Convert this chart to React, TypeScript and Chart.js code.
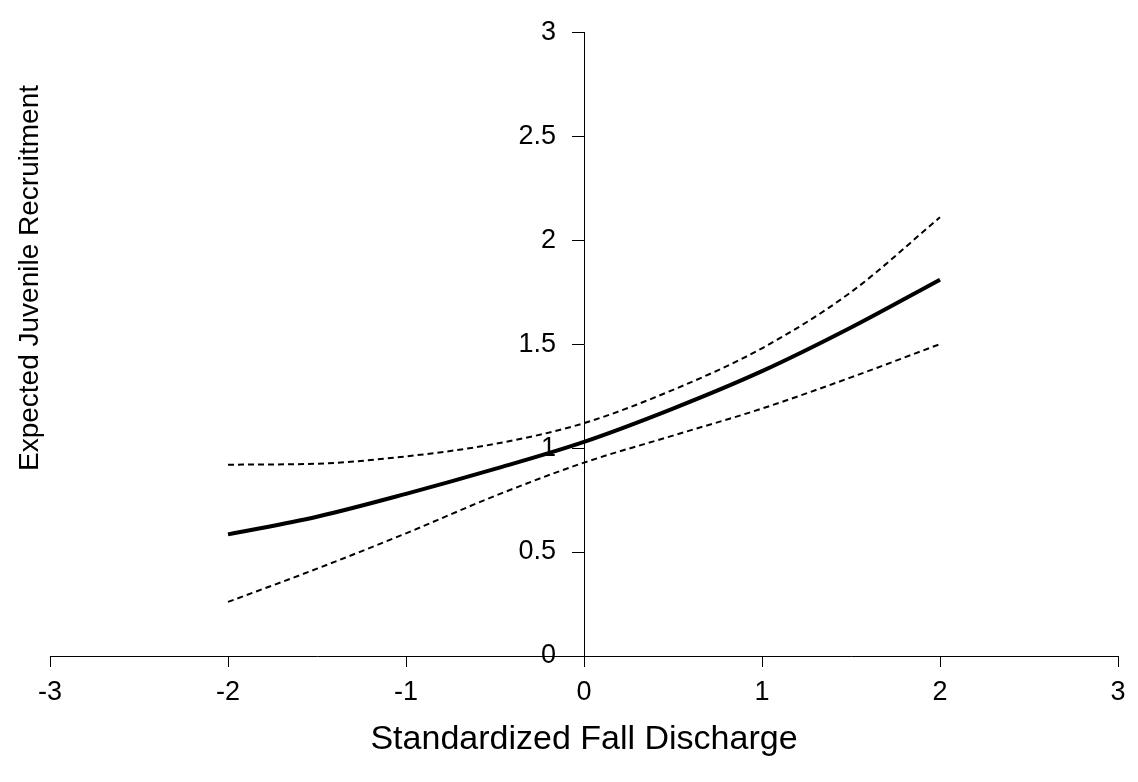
import React, { useEffect, useRef } from "react";
import { Chart, registerables } from "chart.js";

Chart.register(...registerables);

const xValues = [-2, -1.5, -1, -0.5, 0, 0.5, 1, 1.5, 2];
const meanValues = [0.585, 0.67, 0.78, 0.9, 1.03, 1.19, 1.37, 1.58, 1.81];
const upperValues = [0.92, 0.925, 0.96, 1.02, 1.12, 1.28, 1.48, 1.75, 2.11];
const lowerValues = [0.26, 0.42, 0.59, 0.77, 0.93, 1.06, 1.19, 1.34, 1.5];
const xTitle = "Standardized Fall Discharge";
const yTitle = "Expected Juvenile Recruitment";

const FONT = "'Liberation Sans', Arial, sans-serif";

const yAxisAtZero = {
  id: "yAxisAtZero",
  afterLayout(chart: any) {
    const y = chart.scales.y;
    const x0 = chart.scales.x.getPixelForValue(0);
    y.right = x0;
    y.left = x0 - 120;
    y.width = 120;
    const y2 = chart.scales.yTitle;
    y2.top = 26;
    y2.bottom = 530;
    y2.height = 504;
  },
};

export default function App() {
  const ref = useRef<HTMLCanvasElement | null>(null);
  useEffect(() => {
    if (!ref.current) return;
    const toPts = (ys: number[]) => xValues.map((x, i) => ({ x, y: ys[i] }));
    const chart = new Chart(ref.current, {
      type: "line",
      data: {
        datasets: [
          {
            label: "Upper",
            data: toPts(upperValues),
            xAxisID: "x",
            yAxisID: "y",
            borderColor: "#000",
            borderWidth: 2,
            borderDash: [6, 4],
            pointRadius: 0,
            cubicInterpolationMode: "monotone",
            fill: false,
          },
          {
            label: "Expected",
            data: toPts(meanValues),
            xAxisID: "x",
            yAxisID: "y",
            borderColor: "#000",
            borderWidth: 4,
            pointRadius: 0,
            cubicInterpolationMode: "monotone",
            fill: false,
          },
          {
            label: "Lower",
            data: toPts(lowerValues),
            xAxisID: "x",
            yAxisID: "y",
            borderColor: "#000",
            borderWidth: 2,
            borderDash: [6, 4],
            pointRadius: 0,
            cubicInterpolationMode: "monotone",
            fill: false,
          },
        ],
      },
      plugins: [yAxisAtZero],
      options: {
        animation: false,
        responsive: false,
        maintainAspectRatio: false,
        layout: { padding: { top: 26, right: 20, left: 0, bottom: 0 } },
        plugins: { legend: { display: false }, tooltip: { enabled: false } },
        scales: {
          x: {
            type: "linear",
            position: "bottom",
            min: -3,
            max: 3,
            ticks: {
              stepSize: 1,
              color: "#000",
              padding: 9,
              maxRotation: 0,
              font: { family: FONT, size: 27 },
            },
            grid: {
              display: true,
              drawOnChartArea: false,
              drawTicks: true,
              tickLength: 11,
              color: "#000",
              lineWidth: 1,
            },
            border: { display: true, color: "#000", width: 1 },
            title: {
              display: true,
              text: xTitle,
              color: "#000",
              font: { family: FONT, size: 34 },
              padding: { top: 0, bottom: 22 },
            },
            afterFit: (axis: any) => {
              axis.height = 126;
            },
          },
          y: {
            type: "linear",
            position: "left",
            min: 0,
            max: 3,
            ticks: {
              stepSize: 0.5,
              color: "#000",
              padding: 16,
              font: { family: FONT, size: 27 },
              callback: (v: any) => String(v),
            },
            grid: {
              display: true,
              drawOnChartArea: false,
              drawTicks: true,
              tickLength: 12,
              color: "#000",
              lineWidth: 1,
            },
            border: { display: true, color: "#000", width: 1 },
            afterFit: (axis: any) => {
              axis.width = 0;
            },
          },
          yTitle: {
            type: "linear",
            position: "left",
            min: 0,
            max: 3,
            ticks: { display: false },
            grid: { display: false, drawTicks: false },
            border: { display: false },
            title: {
              display: true,
              text: yTitle,
              color: "#000",
              font: { family: FONT, size: 28 },
              padding: { top: 13, bottom: 0 },
            },
            afterFit: (axis: any) => {
              axis.width = 50;
            },
          },
        },
      },
    });
    return () => chart.destroy();
  }, []);
  return (
    <div style={{ position: "fixed", left: 0, top: 0, width: 1138, height: 782, background: "#fff" }}>
      <canvas ref={ref} width={1138} height={782} style={{ width: 1138, height: 782 }} />
    </div>
  );
}
